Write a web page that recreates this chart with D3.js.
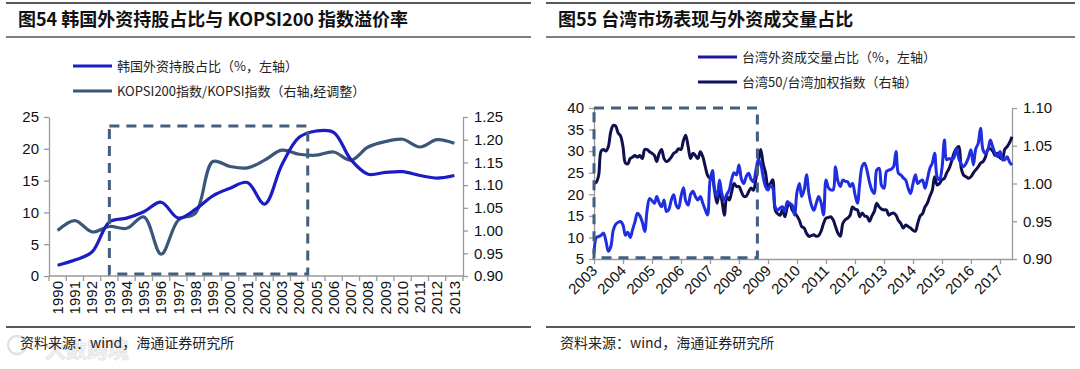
<!DOCTYPE html>
<html><head><meta charset="utf-8">
<script src="https://cdn.jsdelivr.net/npm/d3@7/dist/d3.min.js"></script>
<style>
body{margin:0;background:#fff}
svg{display:block}
text{font-family:"Liberation Sans",Arial,"Noto Sans CJK SC",sans-serif}
.cjk{font-family:"Noto Sans CJK SC","Liberation Sans",sans-serif}
</style>
</head><body>
<svg id="c" width="1080" height="369"></svg>
<script>
// ---------- Figure 54 data (Korea) ----------
const koreaYears = ["1990","1991","1992","1993","1994","1995","1996","1997","1998","1999","2000","2001","2002","2003","2004","2005","2006","2007","2008","2009","2010","2011","2012","2013"];
const koreaForeignShare = [1.7,2.5,3.8,8.5,9.1,10.1,11.6,9.1,10.5,12.6,13.8,14.7,11.3,17.5,21.8,22.8,22.6,18.3,16.0,16.3,16.4,15.8,15.4,15.8];
const kopsiRatio = [1.000,1.022,0.997,1.009,1.005,1.030,0.948,1.023,1.039,1.152,1.141,1.138,1.155,1.177,1.168,1.166,1.173,1.155,1.184,1.196,1.201,1.184,1.200,1.192];
const koreaLeftTicks = [0,5,10,15,20,25];
const koreaRightTicks = [0.90,0.95,1.00,1.05,1.10,1.15,1.20,1.25];
const koreaBox = {from:"1993", to:"2005", top:23.6, bottom:0.3};
const koreaLegend = ["韩国外资持股占比（%，左轴）","KOPSI200指数/KOPSI指数（右轴,经调整）"];

// ---------- Figure 55 data (Taiwan, monthly from 2003-01) ----------
const taiwanStart = [2003, 0];
const taiwanForeignShare = [6.3,10.0,10.2,10.5,11.0,9.1,6.8,7.9,11.7,13.0,13.5,13.7,12.9,10.5,11.2,10.0,11.8,13.7,15.6,15.0,13.5,11.4,16.5,19.0,18.5,17.9,19.5,18.0,17.1,18.7,16.0,16.5,18.7,19.9,17.5,16.8,19.5,21.5,18.5,17.5,19.9,20.7,19.5,18.7,19.5,18.0,16.5,15.2,23.0,25.5,21.0,19.5,23.3,20.0,18.7,20.0,21.0,23.5,25.0,24.5,26.8,23.5,22.5,24.1,24.9,23.5,22.9,25.5,28.0,27.0,24.0,21.8,21.0,22.0,21.5,17.1,16.3,16.8,17.1,16.0,18.3,17.8,17.5,15.2,20.5,22.5,19.5,21.0,24.5,20.0,17.5,16.3,17.9,19.5,18.0,15.2,23.3,21.5,21.0,21.0,26.4,23.0,21.8,23.3,23.0,22.9,21.8,22.5,20.0,17.9,22.5,26.5,27.2,25.5,22.9,21.0,20.2,25.6,26.0,22.0,21.4,25.3,25.6,25.8,26.4,29.9,24.9,24.5,23.8,23.3,21.4,20.2,22.5,24.5,22.5,23.0,23.3,21.4,23.5,26.0,27.2,29.5,24.0,23.3,26.0,32.6,28.0,28.3,28.0,28.5,30.6,28.3,27.0,26.4,27.2,28.5,30.3,26.8,30.5,31.8,35.3,30.3,29.5,30.3,32.6,31.0,29.5,28.7,29.9,28.0,28.0,28.7,27.5,26.8];
const taiwan50Ratio = [1.000,1.002,1.011,1.043,1.045,1.043,1.049,1.069,1.077,1.076,1.067,1.063,1.049,1.027,1.026,1.033,1.035,1.037,1.035,1.037,1.033,1.045,1.045,1.042,1.040,1.037,1.029,1.040,1.045,1.033,1.029,1.031,1.035,1.040,1.042,1.046,1.045,1.057,1.064,1.049,1.033,1.040,1.037,1.033,1.042,1.036,1.023,1.011,1.007,1.006,0.989,0.974,0.991,0.977,0.958,0.983,0.978,0.989,1.000,0.996,0.996,0.989,0.983,0.983,0.989,0.994,0.991,1.006,1.029,1.045,1.026,1.014,0.996,1.000,1.005,0.965,0.960,0.958,0.965,0.956,0.969,0.974,0.965,0.961,0.957,0.951,0.943,0.941,0.934,0.930,0.931,0.932,0.930,0.931,0.937,0.947,0.954,0.955,0.956,0.952,0.943,0.934,0.930,0.947,0.952,0.954,0.958,0.969,0.966,0.965,0.956,0.961,0.957,0.956,0.950,0.957,0.963,0.974,0.969,0.966,0.965,0.965,0.958,0.960,0.961,0.958,0.951,0.947,0.941,0.945,0.943,0.941,0.938,0.937,0.947,0.957,0.960,0.969,0.974,0.983,0.991,1.009,0.998,1.000,1.005,1.007,1.014,1.020,1.029,1.040,1.046,1.049,1.020,1.011,1.009,1.007,1.009,1.014,1.018,1.022,1.027,1.029,1.035,1.045,1.046,1.043,1.037,1.040,1.034,1.033,1.045,1.049,1.054,1.062];
const taiwanYearTicks = [2003,2004,2005,2006,2007,2008,2009,2010,2011,2012,2013,2014,2015,2016,2017];
const taiwanLeftTicks = [5,10,15,20,25,30,35,40];
const taiwanRightTicks = [0.90,0.95,1.00,1.05,1.10];
const taiwanBox = {from:[2003,0,1], to:[2008,7,20], top:40, bottom:5.3};
const taiwanLegend = ["台湾外资成交量占比（%，左轴）","台湾50/台湾加权指数（右轴）"];

const titles = ["图54 韩国外资持股占比与 KOPSI200 指数溢价率","图55 台湾市场表现与外资成交量占比"];
const source = "资料来源：wind，海通证券研究所";

// ---------- styles ----------
const C = {kBlue:"#1c1cc4", kSlate:"#3b5679", tBlue:"#1f2ee0", tDark:"#10104f", box:"#435e7e", axis:"#9a9a9a"};

const svg = d3.select("#c");

function frame(x0, x1, title){
  const g = svg.append("g");
  g.append("line").attr("x1",x0).attr("x2",x1).attr("y1",3).attr("y2",3).attr("stroke","#222").attr("stroke-width",1.6);
  g.append("line").attr("x1",x0).attr("x2",x1).attr("y1",37).attr("y2",37).attr("stroke","#555").attr("stroke-width",1.3);
  g.append("line").attr("x1",x0).attr("x2",x1).attr("y1",327).attr("y2",327).attr("stroke","#222").attr("stroke-width",1.6);
  g.append("text").attr("class","cjk").attr("x",x0+12).attr("y",26).attr("font-size",18).attr("font-weight","bold").attr("fill","#111").text(title);
  g.append("text").attr("class","cjk").attr("x",x0+14).attr("y",348).attr("font-size",14).attr("fill","#222").text(source);
}

// faint watermark (behind the source text)
svg.append("circle").attr("cx",17).attr("cy",345).attr("r",9).attr("fill","none").attr("stroke","#e2e2e2").attr("stroke-width",2.5);
svg.append("text").attr("class","cjk").attr("x",45).attr("y",357).attr("font-size",21).attr("font-weight","bold")
  .attr("fill","#f4f4f4").attr("stroke","#e0e0e0").attr("stroke-width",0.7).text("大数跨境");

frame(6, 531, titles[0]);
frame(546, 1075, titles[1]);

function styleAxis(g){
  g.select(".domain").attr("stroke",C.axis).attr("stroke-width",1.3);
  g.selectAll(".tick line").attr("stroke",C.axis).attr("stroke-width",1.3);
  g.selectAll(".tick text").attr("font-size",15).attr("fill","#111").attr("font-family","Liberation Sans, Arial, sans-serif");
}

function legend(x, ys, labels, colors){
  labels.forEach((t,i)=>{
    svg.append("line").attr("x1",x).attr("x2",x+39).attr("y1",ys[i]).attr("y2",ys[i]).attr("stroke",colors[i]).attr("stroke-width",3);
    svg.append("text").attr("class","cjk").attr("x",x+44).attr("y",ys[i]).attr("dy","0.35em").attr("font-size",13).attr("fill","#222").text(t);
  });
}

// ---------- Figure 54 ----------
{
  const x = d3.scaleBand().domain(koreaYears).range([49,463]).padding(0);
  const yL = d3.scaleLinear().domain([0,25]).range([276,117]);
  const yR = d3.scaleLinear().domain([0.9,1.25]).range([276,117]);
  const cx = d => x(d) + x.bandwidth()/2;

  const gl = svg.append("g").attr("transform","translate(49,0)")
    .call(d3.axisLeft(yL).tickValues(koreaLeftTicks).tickSize(5).tickSizeOuter(0).tickPadding(5));
  styleAxis(gl);
  const gr = svg.append("g").attr("transform","translate(463,0)")
    .call(d3.axisRight(yR).tickValues(koreaRightTicks).tickFormat(d3.format(".2f")).tickSize(5).tickSizeOuter(0).tickPadding(6));
  styleAxis(gr);

  const gb = svg.append("g");
  gb.append("line").attr("x1",x.range()[0]).attr("x2",x.range()[1]).attr("y1",276).attr("y2",276).attr("stroke",C.axis).attr("stroke-width",1.3);
  const bounds = koreaYears.map(d=>x(d)).concat([x.range()[1]]);
  gb.selectAll("line.t").data(bounds).join("line").attr("class","t")
    .attr("x1",d=>d).attr("x2",d=>d).attr("y1",276).attr("y2",281).attr("stroke",C.axis).attr("stroke-width",1.3);
  gb.selectAll("text").data(koreaYears).join("text")
    .attr("transform",d=>`translate(${cx(d)},281) rotate(-90)`)
    .attr("text-anchor","end").attr("dy","0.35em").attr("font-size",15).attr("fill","#111").text(d=>d);

  const lineL = d3.line().x((d,i)=>cx(koreaYears[i])).y(d=>yL(d)).curve(d3.curveCatmullRom.alpha(0.5));
  const lineR = d3.line().x((d,i)=>cx(koreaYears[i])).y(d=>yR(d)).curve(d3.curveCatmullRom.alpha(0.5));
  svg.append("path").attr("d",lineR(kopsiRatio)).attr("fill","none").attr("stroke",C.kSlate).attr("stroke-width",3.2);
  svg.append("path").attr("d",lineL(koreaForeignShare)).attr("fill","none").attr("stroke",C.kBlue).attr("stroke-width",3.2);

  const bx0 = cx(koreaBox.from), bx1 = x(koreaBox.to);
  svg.append("rect").attr("x",bx0).attr("y",yL(koreaBox.top)).attr("width",bx1-bx0).attr("height",yL(koreaBox.bottom)-yL(koreaBox.top))
    .attr("fill","none").attr("stroke",C.box).attr("stroke-width",3).attr("stroke-dasharray","10,7");

  legend(73,[66,91],koreaLegend,[C.kBlue,C.kSlate]);
}

// ---------- Figure 55 ----------
{
  const dates = taiwanForeignShare.map((d,i)=>new Date(taiwanStart[0], taiwanStart[1]+i, 1));
  const x = d3.scaleTime().domain([dates[0], dates[dates.length-1]]).range([594,1012]);
  const yL = d3.scaleLinear().domain([5,40]).range([259,108]);
  const yR = d3.scaleLinear().domain([0.9,1.1]).range([259,108]);

  const gl = svg.append("g").attr("transform","translate(594,0)")
    .call(d3.axisLeft(yL).tickValues(taiwanLeftTicks).tickSize(5).tickSizeOuter(0).tickPadding(5));
  styleAxis(gl);
  const gr = svg.append("g").attr("transform","translate(1012,0)")
    .call(d3.axisRight(yR).tickValues(taiwanRightTicks).tickFormat(d3.format(".2f")).tickSize(5).tickSizeOuter(0).tickPadding(6));
  styleAxis(gr);

  const yearDates = taiwanYearTicks.map(y=>new Date(y,0,1));
  const gb = svg.append("g").attr("transform","translate(0,259)")
    .call(d3.axisBottom(x).tickValues(yearDates).tickSize(5).tickSizeOuter(0).tickFormat(d3.timeFormat("%Y")));
  styleAxis(gb);
  gb.selectAll(".tick text").attr("text-anchor","end").attr("y",0).attr("dy","0.35em")
    .attr("transform","translate(0,9) rotate(-45)");

  const lineL = d3.line().x((d,i)=>x(dates[i])).y(d=>yL(d)).curve(d3.curveCatmullRom.alpha(0.5));
  const lineR = d3.line().x((d,i)=>x(dates[i])).y(d=>yR(d)).curve(d3.curveCatmullRom.alpha(0.5));
  svg.append("path").attr("d",lineR(taiwan50Ratio)).attr("fill","none").attr("stroke",C.tDark).attr("stroke-width",3).attr("stroke-linejoin","round");
  svg.append("path").attr("d",lineL(taiwanForeignShare)).attr("fill","none").attr("stroke",C.tBlue).attr("stroke-width",3).attr("stroke-linejoin","round");

  const bx0 = x(new Date(...taiwanBox.from)), bx1 = x(new Date(...taiwanBox.to));
  svg.append("rect").attr("x",bx0).attr("y",yL(taiwanBox.top)).attr("width",bx1-bx0).attr("height",yL(taiwanBox.bottom)-yL(taiwanBox.top))
    .attr("fill","none").attr("stroke",C.box).attr("stroke-width",3).attr("stroke-dasharray","10,7");

  legend(698,[57,82],taiwanLegend,["#1a1aa0","#10105e"]);
}
</script>
</body></html>
